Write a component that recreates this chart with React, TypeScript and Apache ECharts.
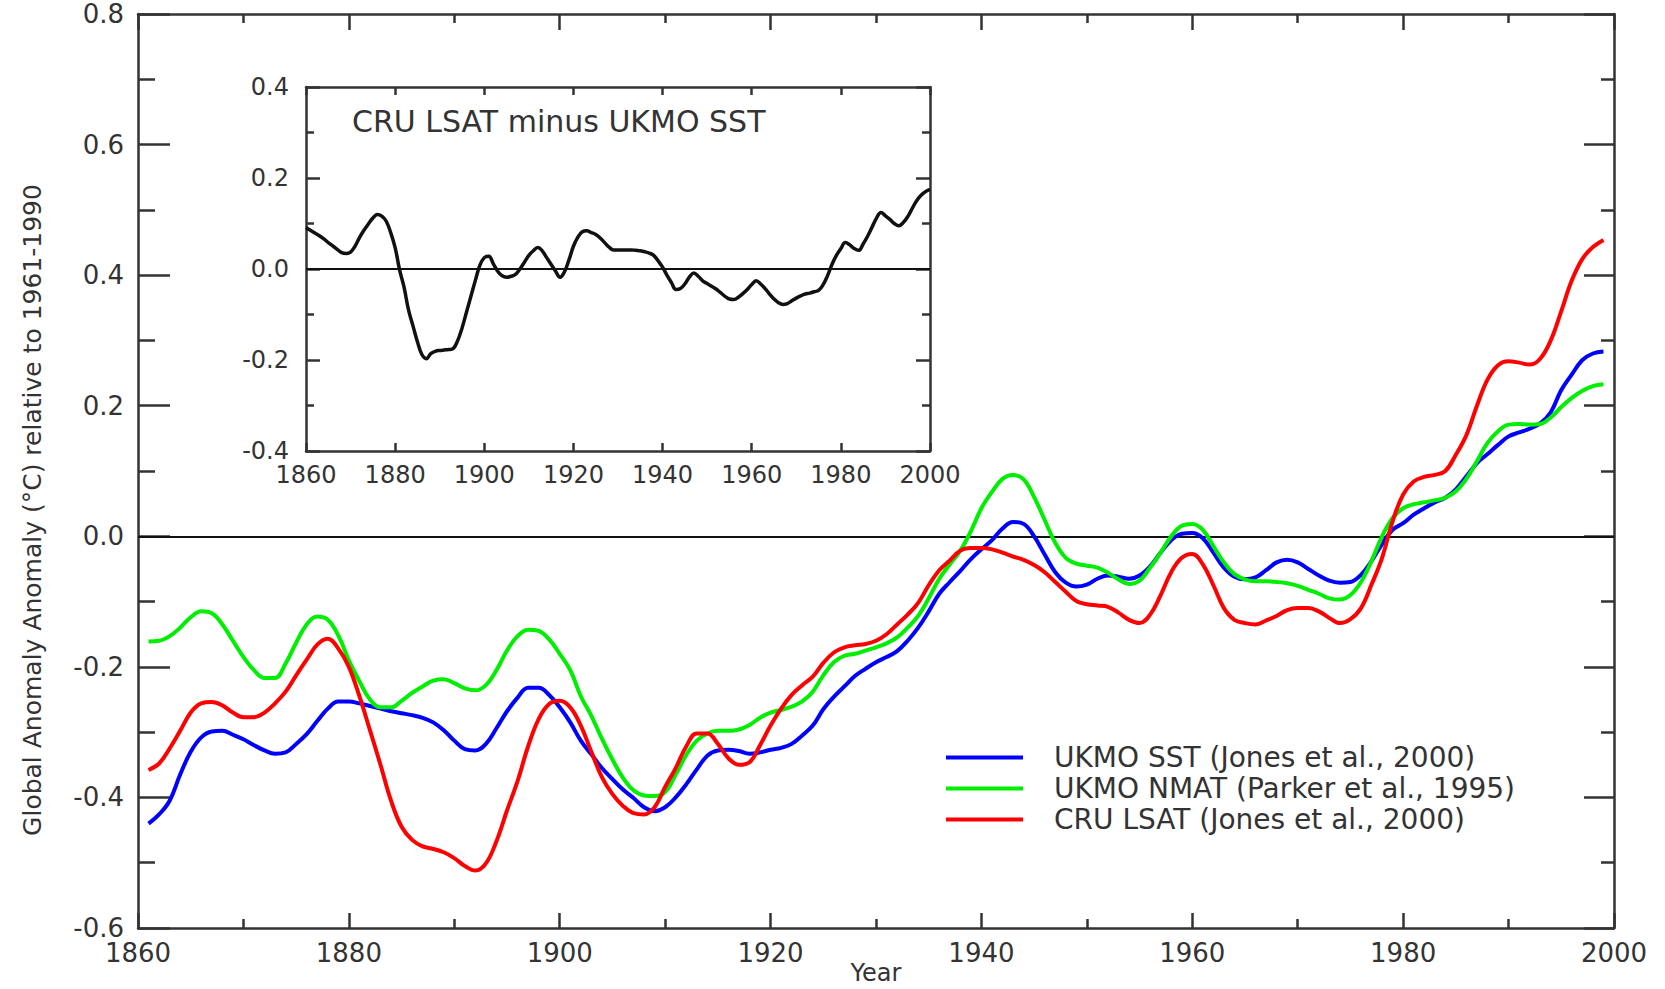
import React, { useEffect, useRef } from "react";
import * as echarts from "echarts";

// Main chart: yearly smoothed anomalies, 1861-1999
const startYear = 1861;
const sst = [
  -0.440, -0.426, -0.405, -0.365, -0.330, -0.308, -0.299, -0.298, -0.304, -0.311,
  -0.320, -0.328, -0.333, -0.331, -0.318, -0.303, -0.283, -0.264, -0.253, -0.253,
  -0.256, -0.260, -0.264, -0.268, -0.271, -0.274, -0.278, -0.285, -0.297, -0.313,
  -0.326, -0.328, -0.318, -0.294, -0.268, -0.247, -0.232, -0.232, -0.243, -0.262,
  -0.285, -0.313, -0.334, -0.355, -0.372, -0.388, -0.401, -0.415, -0.421, -0.415,
  -0.400, -0.380, -0.357, -0.336, -0.328, -0.327, -0.329, -0.333, -0.331, -0.327,
  -0.324, -0.318, -0.305, -0.290, -0.265, -0.246, -0.230, -0.214, -0.203, -0.193,
  -0.185, -0.176, -0.160, -0.140, -0.115, -0.088, -0.070, -0.053, -0.035, -0.020,
  -0.006, 0.012, 0.022, 0.019, 0.000, -0.028, -0.055, -0.071, -0.077, -0.074,
  -0.065, -0.060, -0.062, -0.065, -0.060, -0.046, -0.025, -0.006, 0.004, 0.005,
  -0.003, -0.025, -0.048, -0.062, -0.066, -0.063, -0.052, -0.040, -0.036, -0.040,
  -0.050, -0.060, -0.068, -0.071, -0.070, -0.059, -0.038, -0.012, 0.010, 0.020,
  0.033, 0.043, 0.052, 0.059, 0.072, 0.092, 0.112, 0.126, 0.140, 0.153,
  0.159, 0.165, 0.173, 0.190, 0.224, 0.248, 0.270, 0.280, 0.283,
];
const nmat = [
  -0.161, -0.160, -0.153, -0.140, -0.124, -0.115, -0.118, -0.135, -0.160, -0.185,
  -0.205, -0.217, -0.217, -0.195, -0.163, -0.135, -0.123, -0.128, -0.152, -0.190,
  -0.222, -0.250, -0.262, -0.262, -0.252, -0.240, -0.230, -0.221, -0.219, -0.225,
  -0.233, -0.236, -0.228, -0.205, -0.175, -0.153, -0.143, -0.145, -0.158, -0.180,
  -0.205, -0.245, -0.275, -0.310, -0.342, -0.370, -0.389, -0.397, -0.398, -0.392,
  -0.365, -0.335, -0.313, -0.302, -0.298, -0.298, -0.296, -0.289, -0.278, -0.270,
  -0.266, -0.261, -0.253, -0.238, -0.213, -0.193, -0.183, -0.180, -0.175, -0.170,
  -0.164, -0.155, -0.140, -0.122, -0.095, -0.065, -0.043, -0.022, 0.008, 0.043,
  0.068, 0.088, 0.094, 0.087, 0.060, 0.025, -0.010, -0.033, -0.042, -0.045,
  -0.048, -0.056, -0.066, -0.073, -0.068, -0.048, -0.025, 0.000, 0.016, 0.019,
  0.010, -0.015, -0.040, -0.058, -0.066, -0.069, -0.069, -0.070, -0.072, -0.076,
  -0.082, -0.088, -0.095, -0.097, -0.090, -0.070, -0.038, 0.000, 0.028, 0.043,
  0.049, 0.052, 0.055, 0.059, 0.069, 0.088, 0.115, 0.143, 0.161, 0.171,
  0.172, 0.171, 0.172, 0.182, 0.198, 0.212, 0.223, 0.230, 0.233,
];
const lsat = [
  -0.358, -0.348, -0.325, -0.298, -0.270, -0.256, -0.254, -0.259, -0.270, -0.277,
  -0.277, -0.270, -0.256, -0.238, -0.213, -0.189, -0.166, -0.157, -0.172, -0.200,
  -0.245, -0.297, -0.350, -0.405, -0.445, -0.465, -0.475, -0.479, -0.484, -0.493,
  -0.505, -0.512, -0.501, -0.467, -0.420, -0.375, -0.322, -0.280, -0.257, -0.252,
  -0.262, -0.290, -0.330, -0.369, -0.395, -0.413, -0.424, -0.426, -0.415, -0.384,
  -0.355, -0.322, -0.302, -0.302, -0.318, -0.340, -0.350, -0.346, -0.320, -0.290,
  -0.264, -0.243, -0.228, -0.215, -0.194, -0.178, -0.170, -0.167, -0.165, -0.160,
  -0.150, -0.135, -0.120, -0.102, -0.075, -0.052, -0.037, -0.022, -0.018, -0.018,
  -0.020, -0.025, -0.031, -0.036, -0.044, -0.055, -0.070, -0.085, -0.099, -0.104,
  -0.106, -0.108, -0.117, -0.128, -0.133, -0.120, -0.090, -0.055, -0.033, -0.027,
  -0.043, -0.075, -0.110, -0.128, -0.133, -0.135, -0.129, -0.122, -0.113, -0.110,
  -0.110, -0.115, -0.125, -0.133, -0.127, -0.110, -0.074, -0.033, 0.023, 0.064,
  0.084, 0.091, 0.094, 0.100, 0.125, 0.155, 0.200, 0.240, 0.262, 0.268,
  0.266, 0.263, 0.272, 0.300, 0.345, 0.392, 0.425, 0.443, 0.454,
];

// Inset: CRU LSAT minus UKMO SST, 1860-2000
const insetStartYear = 1860;
const lsatMinusSst = [
  0.091, 0.085, 0.079, 0.073, 0.066, 0.058, 0.051, 0.043, 0.036, 0.034,
  0.037, 0.050, 0.069, 0.085, 0.099, 0.112, 0.120, 0.116, 0.105, 0.080,
  0.047, -0.002, -0.040, -0.090, -0.125, -0.160, -0.188, -0.197, -0.186, -0.181,
  -0.179, -0.178, -0.177, -0.175, -0.158, -0.130, -0.095, -0.060, -0.025, 0.008,
  0.025, 0.028, 0.012, -0.005, -0.015, -0.018, -0.016, -0.012, 0.000, 0.015,
  0.030, 0.040, 0.047, 0.040, 0.025, 0.010, -0.005, -0.018, -0.006, 0.020,
  0.050, 0.070, 0.082, 0.084, 0.080, 0.076, 0.068, 0.058, 0.048, 0.042,
  0.042, 0.042, 0.042, 0.042, 0.041, 0.040, 0.038, 0.035, 0.030, 0.018,
  0.004, -0.014, -0.030, -0.045, -0.043, -0.033, -0.018, -0.009, -0.016, -0.026,
  -0.032, -0.038, -0.044, -0.052, -0.060, -0.066, -0.067, -0.062, -0.054, -0.045,
  -0.034, -0.026, -0.033, -0.043, -0.055, -0.066, -0.074, -0.078, -0.076, -0.070,
  -0.064, -0.059, -0.055, -0.053, -0.050, -0.047, -0.035, -0.015, 0.010, 0.030,
  0.045, 0.058, 0.053, 0.045, 0.041, 0.055, 0.072, 0.092, 0.112, 0.124,
  0.117, 0.109, 0.100, 0.095, 0.102, 0.115, 0.133, 0.150, 0.162, 0.170,
  0.175,
];

const seriesNames = [
  "UKMO SST (Jones et al., 2000)",
  "UKMO NMAT (Parker et al., 1995)",
  "CRU LSAT (Jones et al., 2000)",
];
const seriesColors = ["#0000ff", "#00ee00", "#ff0000"];
const insetTitle = "CRU LSAT minus UKMO SST";
const yTitle = "Global Anomaly Anomaly (°C) relative to 1961-1990";
const xTitle = "Year";

const FONT = "DejaVu Sans";
const AX = "#333333";

function pairs(start: number, vals: number[]) {
  return vals.map((v, i) => [start + i, v]);
}

export default function App() {
  const ref = useRef<HTMLDivElement>(null);
  useEffect(() => {
    if (!ref.current) return;
    const chart = echarts.init(ref.current, null, { renderer: "svg" });
    const label = { fontFamily: FONT, fontSize: 26, color: AX };
    const insetLabel = { fontFamily: FONT, fontSize: 24, color: AX };
    const line = { color: AX, width: 2.5 };
    const yearFmt = (v: number) => String(Math.round(v));
    const decFmt = (v: number) => v.toFixed(1);

    const mainData = [sst, nmat, lsat];

    chart.setOption({
      animation: false,
      backgroundColor: "#ffffff",
      title: {
        text: insetTitle,
        left: 352,
        top: 106,
        padding: 0,
        textStyle: { fontFamily: FONT, fontSize: 30, fontWeight: "normal", color: AX },
      },
      legend: {
        data: seriesNames,
        orient: "vertical",
        left: 946,
        top: 742,
        padding: 0,
        itemGap: 0,
        itemWidth: 77,
        itemHeight: 4,
        icon: "rect",
        selectedMode: false,
        textStyle: { fontFamily: FONT, fontSize: 28, color: AX, lineHeight: 31, padding: [0, 0, 0, 26] },
      },
      grid: [
        { left: 138, top: 14, width: 1476, height: 914, outerBoundsMode: "none", containLabel: false },
        {
          left: 306, top: 87, width: 624, height: 364, show: true, backgroundColor: "#ffffff",
          borderWidth: 0, outerBoundsMode: "none", containLabel: false,
        },
      ],
      xAxis: [
        {
          type: "value", gridIndex: 0, min: 1860, max: 2000, interval: 20, position: "bottom",
          axisLine: { show: true, onZero: false, lineStyle: line },
          axisTick: { show: true, inside: true, length: 15, lineStyle: line },
          minorTick: { show: true, splitNumber: 2, length: 9, lineStyle: line },
          axisLabel: { ...label, margin: 12, formatter: yearFmt },
          splitLine: { show: false },
        },
        {
          type: "value", gridIndex: 0, min: 1860, max: 2000, interval: 20, position: "top",
          axisLine: { show: true, onZero: false, lineStyle: line },
          axisTick: { show: true, inside: true, length: 16, lineStyle: line },
          minorTick: { show: true, splitNumber: 2, length: 9, lineStyle: line },
          axisLabel: { show: false },
          splitLine: { show: false },
        },
        {
          type: "value", gridIndex: 1, min: 1860, max: 2000, interval: 20, position: "bottom",
          axisLine: { show: true, onZero: false, lineStyle: line },
          axisTick: { show: true, inside: true, length: 8, lineStyle: line },
          axisLabel: { ...insetLabel, margin: 12, formatter: yearFmt },
          splitLine: { show: false },
        },
        {
          type: "value", gridIndex: 1, min: 1860, max: 2000, interval: 20, position: "top",
          axisLine: { show: true, onZero: false, lineStyle: line },
          axisTick: { show: true, inside: true, length: 8, lineStyle: line },
          axisLabel: { show: false },
          splitLine: { show: false },
        },
      ],
      yAxis: [
        {
          type: "value", gridIndex: 0, min: -0.6, max: 0.8, interval: 0.2, position: "left",
          axisLine: { show: true, onZero: false, lineStyle: line },
          axisTick: { show: true, inside: true, length: 32, lineStyle: line },
          minorTick: { show: true, splitNumber: 2, length: 17, lineStyle: line },
          axisLabel: { ...label, margin: 14, formatter: decFmt },
          splitLine: { show: false },
        },
        {
          type: "value", gridIndex: 0, min: -0.6, max: 0.8, interval: 0.2, position: "right",
          axisLine: { show: true, onZero: false, lineStyle: line },
          axisTick: { show: true, inside: true, length: 30, lineStyle: line },
          minorTick: { show: true, splitNumber: 2, length: 13, lineStyle: line },
          axisLabel: { show: false },
          splitLine: { show: false },
        },
        {
          type: "value", gridIndex: 1, min: -0.4, max: 0.4, interval: 0.2, position: "left",
          axisLine: { show: true, onZero: false, lineStyle: line },
          axisTick: { show: true, inside: true, length: 14, lineStyle: line },
          minorTick: { show: true, splitNumber: 2, length: 8, lineStyle: line },
          axisLabel: { ...insetLabel, margin: 17, formatter: decFmt },
          splitLine: { show: false },
        },
        {
          type: "value", gridIndex: 1, min: -0.4, max: 0.4, interval: 0.2, position: "right",
          axisLine: { show: true, onZero: false, lineStyle: line },
          axisTick: { show: true, inside: true, length: 14, lineStyle: line },
          minorTick: { show: true, splitNumber: 2, length: 8, lineStyle: line },
          axisLabel: { show: false },
          splitLine: { show: false },
        },
      ],
      graphic: [
        {
          type: "text",
          x: 32,
          y: 510,
          rotation: Math.PI / 2,
          style: {
            text: yTitle,
            fontFamily: FONT,
            fontSize: 25,
            fill: AX,
            align: "center",
            verticalAlign: "middle",
          },
        },
        {
          type: "text",
          x: 876,
          y: 973,
          style: {
            text: xTitle,
            fontFamily: FONT,
            fontSize: 24,
            fill: AX,
            align: "center",
            verticalAlign: "middle",
          },
        },
      ],
      series: [
        ...mainData.map((vals, k) => ({
          name: seriesNames[k],
          type: "line",
          xAxisIndex: 0,
          yAxisIndex: 0,
          data: pairs(startYear, vals),
          symbol: "none",
          showSymbol: false,
          smooth: 0.4,
          lineStyle: { color: seriesColors[k], width: 4 },
          itemStyle: { color: seriesColors[k] },
          z: 3,
          ...(k === 0
            ? {
                markLine: {
                  silent: true,
                  symbol: "none",
                  label: { show: false },
                  lineStyle: { color: "#111", width: 2, type: "solid" },
                  data: [{ yAxis: 0 }],
                  z: 2,
                },
              }
            : {}),
        })),
        {
          name: insetTitle,
          type: "line",
          xAxisIndex: 2,
          yAxisIndex: 2,
          data: pairs(insetStartYear, lsatMinusSst),
          symbol: "none",
          showSymbol: false,
          smooth: 0.4,
          lineStyle: { color: "#111", width: 3.5 },
          itemStyle: { color: "#111" },
          z: 4,
          markLine: {
            silent: true,
            symbol: "none",
            label: { show: false },
            lineStyle: { color: "#111", width: 2, type: "solid" },
            data: [{ yAxis: 0 }],
          },
        },
      ],
    });
    return () => chart.dispose();
  }, []);

  return (
    <div
      ref={ref}
      style={{ position: "fixed", left: 0, top: 0, width: 1665, height: 989, background: "#fff" }}
    />
  );
}
